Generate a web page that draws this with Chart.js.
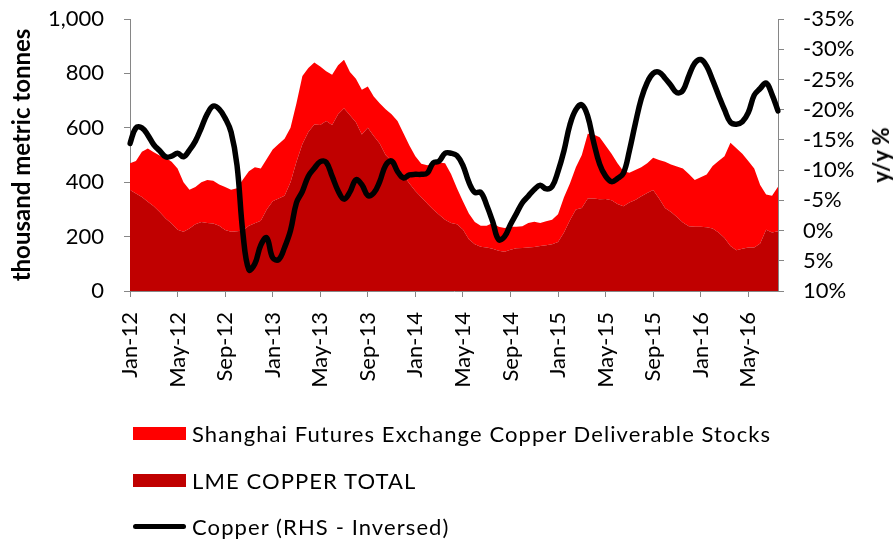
<!DOCTYPE html>
<html>
<head>
<meta charset="utf-8">
<script src="https://cdn.jsdelivr.net/npm/chart.js@4.4.1/dist/chart.umd.min.js"></script>
<style>
  html, body { margin: 0; padding: 0; background: #ffffff; }
  #wrap { position: relative; width: 894px; height: 541px; font-family: Lato, "Noto Sans", sans-serif; }
  #c { position: absolute; left: 0; top: 0; }
  #rtitle { position: absolute; left: 881px; top: 155px; transform: translate(-50%, -50%) rotate(-90deg);
            font: bold 22px Lato, "Noto Sans", sans-serif; color: #000; white-space: nowrap; line-height: 22px; }
  .lg { position: absolute; left: 133px; height: 26px; display: flex; align-items: center;
        font: 22px Lato, "Noto Sans", sans-serif; letter-spacing: 1.1px; color: #000; white-space: nowrap; }
  .sw { width: 53px; height: 13px; margin-right: 6px; }
  .ln { width: 53px; height: 5px; border-radius: 3px; margin-right: 6px; background: #000; }
</style>
</head>
<body>
<div id="wrap">
  <canvas id="c" width="894" height="541"></canvas>
  <div id="rtitle">y/y %</div>
</div>
<script>
// Half-monthly observation dates
const dates = [
 '2012-01-01','2012-01-16','2012-02-01','2012-02-16','2012-03-01','2012-03-16','2012-04-01','2012-04-16',
 '2012-05-01','2012-05-16','2012-06-01','2012-06-16','2012-07-01','2012-07-16','2012-08-01','2012-08-16',
 '2012-09-01','2012-09-16','2012-10-01','2012-10-16','2012-11-01','2012-11-16','2012-12-01','2012-12-16',
 '2013-01-01','2013-01-16','2013-02-01','2013-02-16','2013-03-01','2013-03-16','2013-04-01','2013-04-16',
 '2013-05-01','2013-05-16','2013-06-01','2013-06-16','2013-07-01','2013-07-16','2013-08-01','2013-08-16',
 '2013-09-01','2013-09-16','2013-10-01','2013-10-16','2013-11-01','2013-11-16','2013-12-01','2013-12-16',
 '2014-01-01','2014-01-16','2014-02-01','2014-02-16','2014-03-01','2014-03-16','2014-04-01','2014-04-16',
 '2014-05-01','2014-05-16','2014-06-01','2014-06-16','2014-07-01','2014-07-16','2014-08-01','2014-08-16',
 '2014-09-01','2014-09-16','2014-10-01','2014-10-16','2014-11-01','2014-11-16','2014-12-01','2014-12-16',
 '2015-01-01','2015-01-16','2015-02-01','2015-02-16','2015-03-01','2015-03-16','2015-04-01','2015-04-16',
 '2015-05-01','2015-05-16','2015-06-01','2015-06-16','2015-07-01','2015-07-16','2015-08-01','2015-08-16',
 '2015-09-01','2015-09-16','2015-10-01','2015-10-16','2015-11-01','2015-11-16','2015-12-01','2015-12-16',
 '2016-01-01','2016-01-16','2016-02-01','2016-02-16','2016-03-01','2016-03-16','2016-04-01','2016-04-16',
 '2016-05-01','2016-05-16','2016-06-01','2016-06-16','2016-07-01','2016-07-16'
];

// Axis tick labels (every 4 months)
const tickLabels = ['Jan-12','May-12','Sep-12','Jan-13','May-13','Sep-13','Jan-14','May-14',
                    'Sep-14','Jan-15','May-15','Sep-15','Jan-16','May-16'];

// LME copper total stocks (thousand tonnes)
const lmeCopper = [
 371,358,346,328,312,290,267,248,225,218,230,245,254,250,248,240,224,218,220,222,240,249,258,300,
 330,340,350,400,475,540,585,612,610,625,610,650,672,646,620,575,600,570,542,500,478,455,426,395,
 368,345,322,300,280,262,250,245,226,190,172,163,160,155,148,144,152,157,158,160,162,165,168,172,
 180,215,260,300,305,340,340,337,338,334,320,312,325,335,348,360,371,340,305,290,272,252,238,236,
 236,234,230,215,195,165,150,155,160,160,175,225,215,220
];

// Shanghai Futures Exchange copper deliverable stocks (thousand tonnes)
const shfeCopper = [
  99,120,166,196,198,208,223,227,225,182,142,137,146,158,157,152,158,154,158,188,200,206,192,185,
 190,200,210,200,215,250,235,228,215,183,185,180,178,159,160,165,152,145,148,168,172,170,154,140,
 127,123,140,165,192,208,180,133,104, 95, 82, 77, 80, 95, 88, 88, 84, 79, 80, 90, 93, 85, 88, 90,
 102,130,135,155,195,238,235,228,197,171,150,128,110,110,107,110,119,142,170,175,186,198,192,172,
 182,194,230,263,300,380,375,350,318,290,215,130,135,163
];

// Copper price y/y % (plotted on inverted right axis)
const copperYoY = [
 -14.4,-17.0,-17.0,-15.8,-14.2,-13.2,-12.2,-12.3,-12.8,-12.2,-13.3,-14.8,-17.0,-19.3,-20.6,-20.1,
 -18.6,-16.3,-10.8,  0.5,  6.5,  5.5,  2.4,  1.2,  4.5,  4.8,  2.8,  0.0, -4.6, -6.5, -9.0,-10.3,
 -11.4,-11.3, -9.0, -6.6, -5.2, -6.4, -8.4, -7.6, -5.8, -6.2, -8.1,-10.8,-11.5, -9.8, -8.7, -9.2,
  -9.3, -9.3, -9.5,-11.2,-11.5,-12.8,-12.8,-12.4,-10.8, -8.0, -6.3, -6.3, -4.2, -1.5,  1.5,  1.0,
  -1.0, -2.8, -4.6, -5.7, -6.8, -7.5, -6.9, -7.3, -9.8,-13.2,-17.5,-20.0,-20.8,-18.9,-14.6,-11.0,
  -9.0, -8.1, -8.6, -9.5,-13.2,-17.7,-21.8,-24.5,-26.0,-26.2,-25.2,-24.0,-22.8,-23.2,-25.6,-27.7,
 -28.3,-27.2,-24.9,-22.4,-20.0,-17.9,-17.6,-18.0,-19.5,-22.4,-23.5,-24.4,-22.5,-19.8
];

const seriesNames = ['Shanghai Futures Exchange Copper Deliverable Stocks', 'LME COPPER TOTAL', 'Copper (RHS - Inversed)'];
const FONT = 'Lato, "Noto Sans", sans-serif';
const axisGray = '#868686';

function noOverflow(s) { s.paddingTop = 0; s.paddingBottom = 0; s.paddingLeft = 0; s.paddingRight = 0; }

const chart = new Chart(document.getElementById('c'), {
  type: 'line',
  data: {
    labels: dates,
    datasets: [
      { label: seriesNames[2], data: copperYoY, yAxisID: 'y1', borderColor: '#000000', borderWidth: 5.5,
        pointRadius: 0, fill: false, tension: 0.4, borderCapStyle: 'round', borderJoinStyle: 'round' },
      { label: seriesNames[1], data: lmeCopper, yAxisID: 'y', backgroundColor: '#C00000', borderWidth: 0,
        borderColor: 'rgba(0,0,0,0)', pointRadius: 0, fill: 'origin', tension: 0 },
      { label: seriesNames[0], data: shfeCopper, yAxisID: 'y', backgroundColor: '#FF0000', borderWidth: 0,
        borderColor: 'rgba(0,0,0,0)', pointRadius: 0, fill: '-1', tension: 0 }
    ]
  },
  options: {
    responsive: false,
    animation: false,
    devicePixelRatio: 1,
    layout: { padding: { left: 0, right: 0, top: 19, bottom: 0 } },
    plugins: { legend: { display: false }, tooltip: { enabled: false } },
    scales: {
      x: {
        type: 'category',
        offset: false,
        grid: { display: true, drawOnChartArea: false, drawTicks: true, tickLength: 6, color: axisGray },
        border: { display: true, color: axisGray, width: 1 },
        ticks: {
          autoSkip: false, maxRotation: 90, minRotation: 90, padding: 15,
          color: '#000', font: { family: FONT, size: 22 },
          callback: function (value, index) { return index % 8 === 0 ? tickLabels[index / 8] : null; }
        },
        afterFit: function (s) { s.height = 250; noOverflow(s); }
      },
      y: {
        position: 'left', stacked: true, min: 0, max: 1000,
        grid: { display: true, drawOnChartArea: false, drawTicks: true, tickLength: 6, color: axisGray },
        border: { display: true, color: axisGray, width: 1 },
        ticks: { stepSize: 200, autoSkip: false, padding: 20, color: '#000', font: { family: FONT, size: 22 },
                 callback: v => v.toLocaleString('en-US') },
        title: { display: true, text: 'thousand metric tonnes', color: '#000',
                 font: { family: FONT, size: 24, weight: 'bold' }, padding: { top: 8, bottom: 0 } },
        afterFit: function (s) { s.width = 130; noOverflow(s); }
      },
      y1: {
        position: 'right', reverse: true, min: -35, max: 10,
        grid: { display: true, drawOnChartArea: false, drawTicks: true, tickLength: 6, color: axisGray },
        border: { display: true, color: axisGray, width: 1 },
        ticks: { stepSize: 5, autoSkip: false, padding: 19, color: '#000', font: { family: FONT, size: 22 },
                 callback: v => v + '%' },
        afterFit: function (s) { s.width = 116; noOverflow(s); }
      }
    }
  }
});

// HTML legend built from the chart's datasets
(function () {
  const wrap = document.getElementById('wrap');
  const order = [2, 1, 0];
  const rowTops = [420, 467, 513];
  order.forEach((di, i) => {
    const ds = chart.data.datasets[di];
    const row = document.createElement('div');
    row.className = 'lg';
    row.style.top = rowTops[i] + 'px';
    const mark = document.createElement('span');
    if (ds.fill === false) { mark.className = 'ln'; mark.style.background = ds.borderColor; }
    else { mark.className = 'sw'; mark.style.background = ds.backgroundColor; }
    const txt = document.createElement('span');
    txt.textContent = ds.label;
    row.appendChild(mark); row.appendChild(txt);
    wrap.appendChild(row);
  });
})();
</script>
</body>
</html>
